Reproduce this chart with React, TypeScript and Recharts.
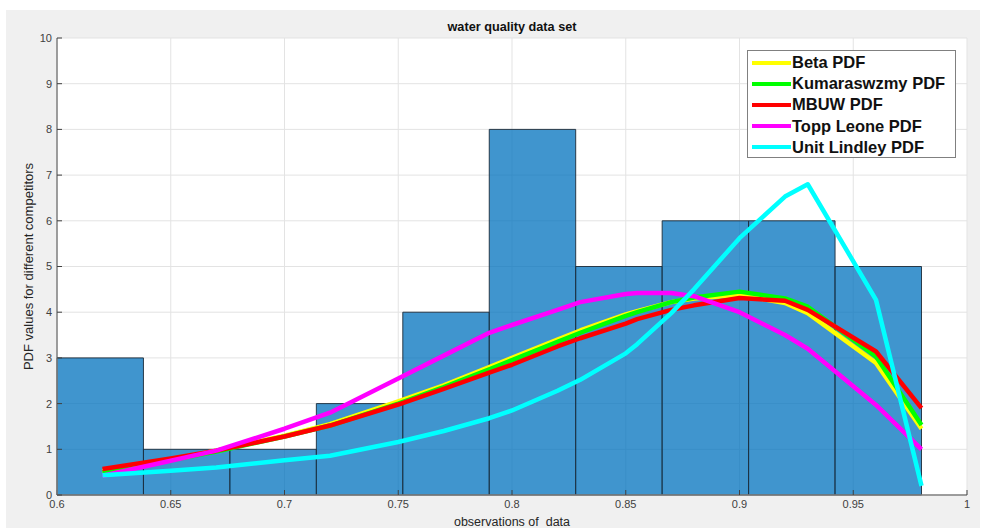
import React from 'react';
import { ComposedChart, Line, XAxis, YAxis, CartesianGrid, ReferenceArea, Legend } from 'recharts';

// observation points where the fitted PDFs are evaluated
const xs = [0.62, 0.65, 0.67, 0.70, 0.72, 0.75, 0.77, 0.79, 0.80, 0.82, 0.83, 0.85, 0.855, 0.87, 0.88, 0.90, 0.92, 0.93, 0.96, 0.98];
const betaPdf = [0.52, 0.78, 0.97, 1.30, 1.55, 2.05, 2.40, 2.80, 3.00, 3.40, 3.60, 3.95, 4.02, 4.22, 4.30, 4.38, 4.20, 3.98, 2.89, 1.45];
const kumaPdf = [0.50, 0.76, 0.95, 1.28, 1.52, 2.00, 2.36, 2.75, 2.95, 3.35, 3.55, 3.92, 4.00, 4.22, 4.32, 4.45, 4.30, 4.12, 3.03, 1.53];
const mbuwPdf = [0.57, 0.80, 0.97, 1.28, 1.52, 1.98, 2.32, 2.68, 2.85, 3.25, 3.43, 3.75, 3.85, 4.05, 4.15, 4.31, 4.25, 4.05, 3.14, 1.90];
const toppPdf = [0.42, 0.75, 0.97, 1.45, 1.80, 2.55, 3.05, 3.55, 3.72, 4.05, 4.22, 4.40, 4.42, 4.42, 4.35, 4.00, 3.50, 3.20, 1.97, 1.00];
const lindleyPdf = [0.43, 0.53, 0.60, 0.76, 0.86, 1.16, 1.40, 1.68, 1.85, 2.28, 2.52, 3.10, 3.30, 3.98, 4.50, 5.62, 6.53, 6.80, 4.27, 0.20];

// histogram
const binEdges = [0.6, 0.638, 0.676, 0.714, 0.752, 0.79, 0.828, 0.866, 0.904, 0.942, 0.98];
const binCounts = [3, 1, 1, 2, 4, 8, 5, 6, 6, 5];

const xTicks = [0.6, 0.65, 0.7, 0.75, 0.8, 0.85, 0.9, 0.95, 1];
const yTicks = [0, 1, 2, 3, 4, 5, 6, 7, 8, 9, 10];

const seriesKeys = ['beta', 'kuma', 'mbuw', 'topp', 'lindley'];
const seriesNames = ['Beta PDF', 'Kumaraswzmy PDF', 'MBUW PDF', 'Topp Leone PDF', 'Unit Lindley PDF'];
const seriesColors = ['#ffff00', '#00ff00', '#ff0000', '#ff00ff', '#00ffff'];
const seriesValues = [betaPdf, kumaPdf, mbuwPdf, toppPdf, lindleyPdf];

const data = xs.map((x, i) => {
  const row: Record<string, number> = { x };
  seriesKeys.forEach((k, j) => {
    row[k] = seriesValues[j][i];
  });
  return row;
});

const FONT = '"Liberation Sans", Arial, Helvetica, sans-serif';
const tickStyle = { fontFamily: FONT, fontSize: 11, fill: '#404040' };
const boxColor = '#808080';

const LegendBox = () => (
  <div
    style={{
      background: '#fff',
      border: '1px solid #808080',
      width: 209,
      height: 108,
      boxSizing: 'border-box',
      paddingTop: 1,
      fontFamily: FONT,
    }}
  >
    {seriesNames.map((n, i) => (
      <div key={n} style={{ display: 'flex', alignItems: 'center', height: 21.2 }}>
        <div style={{ width: 39, height: 4, background: seriesColors[i], marginLeft: 4, marginRight: 1 }} />
        <span style={{ fontWeight: 'bold', fontSize: 16.5, color: '#111' }}>{n}</span>
      </div>
    ))}
  </div>
);

export default function App() {
  return (
    <div style={{ position: 'absolute', left: 0, top: 0, width: 988, height: 528, background: '#fff', overflow: 'hidden' }}>
      <div style={{ position: 'absolute', left: 6, top: 10, width: 974, height: 518, background: '#f0f0f0' }} />
      <div
        style={{
          position: 'absolute',
          left: 312,
          width: 400,
          top: 19,
          textAlign: 'center',
          fontFamily: FONT,
          fontWeight: 'bold',
          fontSize: 12.7,
          lineHeight: '16px',
          color: '#111',
        }}
      >
        water quality data set
      </div>
      <div style={{ position: 'absolute', left: 0, top: 0 }}>
        <ComposedChart width={988} height={528} data={data} margin={{ top: 38, left: 17, right: 21, bottom: 3 }}>
          <CartesianGrid stroke="#e3e3e3" fill="#ffffff" />
          {binCounts.map((c, i) => (
            <ReferenceArea
              key={i}
              x1={binEdges[i]}
              x2={binEdges[i + 1]}
              y1={0}
              y2={c}
              fill="#0072BD"
              fillOpacity={0.75}
              stroke="#1c2b38"
              strokeOpacity={0.9}
              strokeWidth={1}
              ifOverflow="visible"
            />
          ))}
          <XAxis
            dataKey="x"
            type="number"
            domain={[0.6, 1]}
            ticks={xTicks}
            allowDataOverflow
            height={30}
            tickSize={-5}
            tickMargin={10}
            tick={tickStyle}
            axisLine={{ stroke: boxColor, strokeWidth: 1.5 }}
            tickLine={{ stroke: '#404040' }}
            label={{
              value: 'observations of\u00A0 data',
              position: 'insideBottom',
              offset: -1,
              style: { fontFamily: FONT, fontSize: 12.5, fill: '#262626' },
            }}
          />
          <XAxis
            xAxisId="top"
            orientation="top"
            dataKey="x"
            type="number"
            domain={[0.6, 1]}
            ticks={xTicks}
            height={0}
            tickSize={-5}
            tick={false}
            axisLine={{ stroke: boxColor, strokeWidth: 1.5 }}
            tickLine={{ stroke: '#404040' }}
          />
          <YAxis
            type="number"
            domain={[0, 10]}
            ticks={yTicks}
            width={40}
            tickSize={-5}
            tickMargin={10}
            tick={tickStyle}
            axisLine={{ stroke: boxColor, strokeWidth: 1.5 }}
            tickLine={{ stroke: '#404040' }}
            label={{
              value: 'PDF values for different competitors',
              angle: -90,
              position: 'insideLeft',
              offset: 11,
              style: { fontFamily: FONT, fontSize: 13, fill: '#262626', textAnchor: 'middle' },
            }}
          />
          <YAxis
            yAxisId="right"
            orientation="right"
            type="number"
            domain={[0, 10]}
            ticks={yTicks}
            width={0}
            tickSize={-5}
            tick={false}
            axisLine={{ stroke: boxColor, strokeWidth: 1.5 }}
            tickLine={{ stroke: '#404040' }}
          />
          {seriesKeys.map((k, i) => (
            <Line
              key={k}
              type="linear"
              dataKey={k}
              name={seriesNames[i]}
              stroke={seriesColors[i]}
              strokeWidth={4.5}
              dot={false}
              activeDot={false}
              isAnimationActive={false}
              strokeLinejoin="round"
            />
          ))}
          <Legend
            layout="vertical"
            align="center"
            verticalAlign="middle"
            content={() => <LegendBox />}
            wrapperStyle={{ position: 'absolute', left: 747, top: 50, width: 209, height: 108 }}
          />
        </ComposedChart>
      </div>
    </div>
  );
}
